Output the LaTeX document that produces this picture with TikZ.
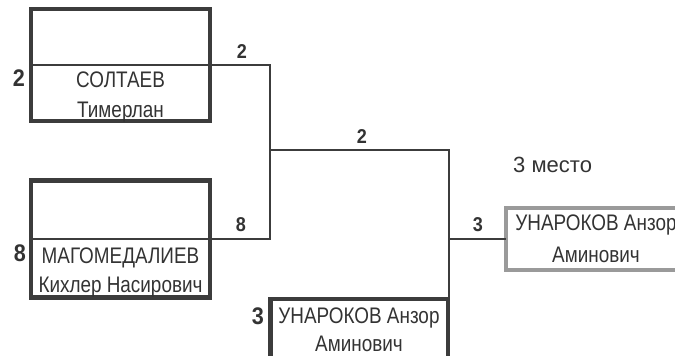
\documentclass[tikz,border=0pt]{standalone}
\usepackage{fontspec}
\setmainfont{Liberation Sans}
\newfontfamily\namefont{Liberation Sans}[FakeStretch=0.84]
\newfontfamily\numfont{Liberation Sans}[FakeStretch=0.9]
\definecolor{ink}{HTML}{333333}
\definecolor{frame}{HTML}{3C3C3C}
\definecolor{lightframe}{HTML}{9A9A9A}
\begin{document}
\begin{tikzpicture}[x=1pt,y=-1pt,
  bx/.style={draw=frame,line width=4.5pt,rectangle,inner sep=0pt,outer sep=0pt},
  bxlight/.style={draw=lightframe,line width=4pt,rectangle,inner sep=0pt,outer sep=0pt},
  divider/.style={draw=frame,line width=1.6pt},
  conn/.style={draw=frame,line width=1.6pt},
  nm/.style={anchor=base,inner sep=0pt,text=ink,font=\namefont\fontsize{22.5}{24}\selectfont},
  sidenum/.style={inner sep=0pt,text=ink,font=\numfont\bfseries\fontsize{24}{26}\selectfont},
  connum/.style={inner sep=0pt,text=ink,font=\numfont\bfseries\fontsize{20}{22}\selectfont},
  place/.style={anchor=base west,inner sep=0pt,text=ink,font=\fontsize{22}{24}\selectfont}]
\useasboundingbox (0,0) rectangle (675,356);
\fill[white] (0,0) rectangle (675,356);
% boxes
\node[bx,minimum width=179pt,minimum height=112pt] (b1) at (120.5,65) {};
\node[bx,minimum width=179pt,minimum height=117pt] (b2) at (120.5,239) {};
\node[bx,minimum width=177.5pt,minimum height=82pt] (b3) at (359.25,340) {};
\node[bxlight,minimum width=180pt,minimum height=62pt] (b4) at (596,239) {};
% dividers
\draw[divider] (b1.west) -- (b1.east);
\draw[divider] (b2.west) -- (b2.east);
% junctions
\coordinate (j1) at (270,150);
\coordinate (j2) at (449,150);
\coordinate (j3) at (449,239);
% connectors
\draw[conn] (b1.east) -| (j1);
\draw[conn] (b2.east) -| (j1);
\draw[conn] (j1) -- (j2) -- (j2 |- b3.north);
\draw[conn] (j3) -- (b4.west);
% names
\node[nm] (n1a) at (120.5,87) {СОЛТАЕВ};
\node[nm] (n1b) at (120.5,117) {Тимерлан};
\node[nm] (n2a) at (120.5,263) {МАГОМЕДАЛИЕВ};
\node[nm] (n2b) at (120.5,292) {Кихлер Насирович};
\node[nm] (n3a) at (359,323) {УНАРОКОВ Анзор};
\node[nm] (n3b) at (359,351.5) {Аминович};
\node[nm] (n4a) at (596,230) {УНАРОКОВ Анзор};
\node[nm] (n4b) at (596,262) {Аминович};
% numbers beside boxes
\node[sidenum] (s1) at (19,78) {2};
\node[sidenum] (s2) at (20,253) {8};
\node[sidenum] (s3) at (258,316.5) {3};
% numbers on connectors
\node[connum] (c1) at (242,51.5) {2};
\node[connum] (c2) at (241,225) {8};
\node[connum] (c3) at (362,137) {2};
\node[connum] (c4) at (478,225) {3};
% place
\node[place] (p3) at (513,172) {3 место};
\end{tikzpicture}
\end{document}
